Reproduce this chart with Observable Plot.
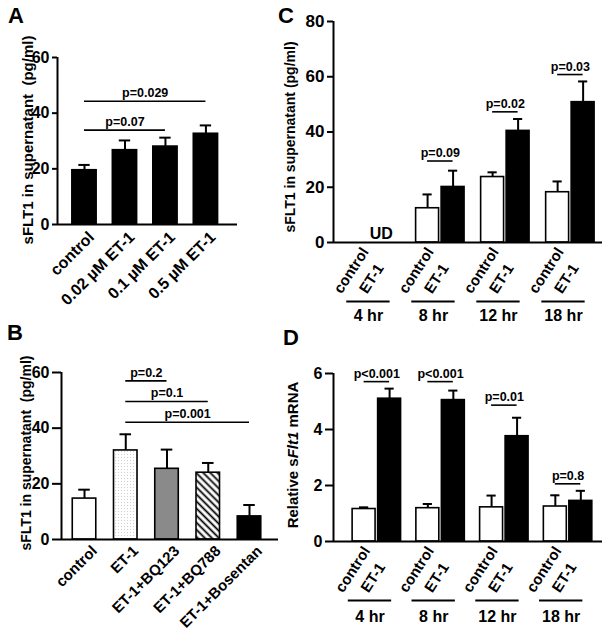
<!DOCTYPE html>
<html>
<head>
<meta charset="utf-8">
<script src="https://cdn.jsdelivr.net/npm/d3@7"></script>
<script src="https://cdn.jsdelivr.net/npm/@observablehq/plot@0.6"></script>
<style>
  body { margin: 0; background: #fff; }
  #fig { position: relative; width: 609px; height: 632px; overflow: hidden; background: #fff;
         font-family: "Liberation Sans", Arial, Helvetica, sans-serif; font-weight: bold; color: #000; }
  .panel { position: absolute; overflow: hidden; }
  .panel svg { display: block; overflow: hidden; }
  .letter { position: absolute; font-size: 22px; line-height: 1; }
  .ytitle { position: absolute; white-space: pre; line-height: 1; transform: translate(-50%, -50%) rotate(-90deg); }
</style>
</head>
<body>
<svg width="0" height="0" style="position:absolute">
  <defs>
    <pattern id="dots" width="3" height="3" patternUnits="userSpaceOnUse">
      <rect width="3" height="3" fill="#fff"></rect>
      <rect x="1" y="1" width="1" height="1" fill="#cfcfcf"></rect>
    </pattern>
    <pattern id="hatch" width="5" height="5" patternUnits="userSpaceOnUse" patternTransform="rotate(-45)">
      <rect width="5" height="5" fill="#fff"></rect>
      <line x1="1.5" y1="0" x2="1.5" y2="5" stroke="#000" stroke-width="1.8"></line>
    </pattern>
  </defs>
</svg>
<div id="fig"></div>
<script>
// ---------------- data ----------------
// Panel A
const catsA = ["control", "0.02 µM ET-1", "0.1 µM ET-1", "0.5 µM ET-1"];
const meanA = [19.5, 26.7, 28.0, 32.6];
const semA  = [1.9, 3.5, 3.2, 3.0];
const ticksA = [0, 20, 40, 60];
const sigA = [
  {from: "control", to: "0.1 µM ET-1", y: 33.9, label: "p=0.07"},
  {from: "control", to: "0.5 µM ET-1", y: 44.3, label: "p=0.029"}
];

// Panel B
const catsB = ["control", "ET-1", "ET-1+BQ123", "ET-1+BQ788", "ET-1+Bosentan"];
const meanB = [14.7, 32.0, 25.4, 24.0, 8.3];
const semB  = [3.2, 5.8, 6.9, 3.5, 4.1];
const ticksB = [0, 20, 40, 60];
const sigB = [
  {from: "ET-1", to: "ET-1+BQ123", y: 57.0, label: "p=0.2"},
  {from: "ET-1", to: "ET-1+BQ788", y: 49.6, label: "p=0.1"},
  {from: "ET-1", to: "ET-1+Bosentan", y: 42.1, label: "p=0.001"}
];

// Panels C & D (time course)
const times = ["4 hr", "8 hr", "12 hr", "18 hr"];
const treatments = ["control", "ET-1"];

const ctlMeanC = [null, 12.4, 23.7, 18.2];
const ctlSemC  = [null, 5.0, 1.7, 3.9];
const et1MeanC = [null, 20.1, 40.4, 50.8];
const et1SemC  = [null, 5.9, 4.3, 7.5];
const ticksC = [0, 20, 40, 60, 80];
const sigC = [
  {time: "8 hr", y: 29.5, label: "p=0.09"},
  {time: "12 hr", y: 47.3, label: "p=0.02"},
  {time: "18 hr", y: 60.8, label: "p=0.03"}
];
const undetected = [{time: "4 hr", label: "UD"}];

const ctlMeanD = [1.16, 1.19, 1.22, 1.25];
const ctlSemD  = [0.06, 0.15, 0.42, 0.40];
const et1MeanD = [5.10, 5.05, 3.76, 1.45];
const et1SemD  = [0.36, 0.34, 0.66, 0.36];
const ticksD = [0, 2, 4, 6];
const sigD = [
  {time: "4 hr", y: 5.71, label: "p<0.001"},
  {time: "8 hr", y: 5.71, label: "p<0.001"},
  {time: "12 hr", y: 4.87, label: "p=0.01"},
  {time: "18 hr", y: 2.06, label: "p=0.8"}
];

// ---------------- styles ----------------
const FONT = '"Liberation Sans", Arial, Helvetica, sans-serif';
const fillB = {"control": "white", "ET-1": "url(#dots)", "ET-1+BQ123": "#8a8a8a", "ET-1+BQ788": "url(#hatch)", "ET-1+Bosentan": "black"};
const fillT = {"control": "white", "ET-1": "black"};

const fig = document.getElementById("fig");
function place(node, left, top, w, h) {
  const d = document.createElement("div");
  d.className = "panel";
  d.style.left = left + "px"; d.style.top = top + "px";
  d.style.width = w + "px"; d.style.height = h + "px";
  d.appendChild(node);
  fig.appendChild(d);
}
function letter(t, left, top) {
  const d = document.createElement("div");
  d.className = "letter"; d.textContent = t;
  d.style.left = left + "px"; d.style.top = top + "px";
  fig.appendChild(d);
}
function ytitle(html, cx, cy, size) {
  const d = document.createElement("div");
  d.className = "ytitle"; d.innerHTML = html;
  d.style.left = cx + "px"; d.style.top = cy + "px"; d.style.fontSize = size + "px";
  fig.appendChild(d);
}
function fixTickFont(svg, size) {
  svg.querySelectorAll('[aria-label="y-axis tick label"]').forEach(g => {
    g.setAttribute("font-size", size);
    g.querySelectorAll("text").forEach(t => t.setAttribute("font-size", size));
  });
  return svg;
}

function frameMarks(xDomain, ticks, tickSize, tickFont) {
  return [
    Plot.ruleY([0], {strokeWidth: 2}),
    Plot.ruleX([xDomain[0]], {strokeWidth: 2}),
    Plot.axisY(ticks, {tickSize, tickPadding: 3, fontSize: tickFont, strokeWidth: 2, label: null})
  ];
}

// ---------- simple categorical bar panel (A, B) ----------
function catPanel(cfg) {
  const idx = new Map(cfg.cats.map((c, i) => [c, i]));
  const rows = cfg.cats.map((c, i) => ({cat: c, pos: i, mean: cfg.means[i], top: cfg.means[i] + cfg.sems[i], fill: cfg.fill(c)}));
  const sig = cfg.sig.map(s => ({...s, a: idx.get(s.from), b: idx.get(s.to)}));
  const svg = Plot.plot({
    width: cfg.width, height: cfg.height,
    marginTop: cfg.m[0], marginRight: cfg.m[1], marginBottom: cfg.m[2], marginLeft: cfg.m[3],
    x: {domain: cfg.xDomain, axis: null},
    y: {domain: [0, cfg.ymax], axis: null},
    color: {type: "identity"},
    style: {fontFamily: FONT, fontWeight: "bold", fontSize: "14px", color: "black", background: "transparent"},
    marks: [
      Plot.ruleX(rows, {x: "pos", y1: "mean", y2: "top", strokeWidth: 2}),
      Plot.ruleY(rows, {y: "top", x1: d => d.pos - cfg.cap, x2: d => d.pos + cfg.cap, strokeWidth: 2}),
      Plot.rect(rows, {x1: d => d.pos - cfg.half, x2: d => d.pos + cfg.half, y1: d => 0, y2: "mean", fill: "fill", stroke: "black", strokeWidth: 1.6}),
      Plot.ruleY(sig, {y: "y", x1: "a", x2: "b", strokeWidth: 1.6}),
      Plot.text(sig, {x: d => (d.a + d.b) / 2, y: "y", text: "label", dy: -4, lineAnchor: "bottom", fontSize: 12.5}),
      Plot.text(rows, {x: "pos", y: d => 0, text: "cat", rotate: -45, textAnchor: "end", dx: cfg.ldx, dy: cfg.ldy, fontSize: cfg.lfont}),
      ...frameMarks(cfg.xDomain, cfg.ticks, cfg.tickSize, cfg.tickFont)
    ]
  });
  return fixTickFont(svg, cfg.tickFont);
}

// ---------- grouped time-course panel (C, D) ----------
function timePanel(cfg) {
  const gpos = new Map(times.map((t, g) => [t, g * cfg.gstep]));
  const bars = [];
  const labels = [];
  times.forEach((t, g) => {
    treatments.forEach((tr, w) => {
      const mean = (w === 0 ? cfg.ctlMean : cfg.etMean)[g];
      const sem = (w === 0 ? cfg.ctlSem : cfg.etSem)[g];
      const pos = gpos.get(t) + w;
      labels.push({time: t, treatment: tr, pos});
      if (mean != null) bars.push({time: t, treatment: tr, pos, mean, top: mean + sem, fill: fillT[tr]});
    });
  });
  const groups = times.map(t => ({time: t, a: gpos.get(t), b: gpos.get(t) + 1}));
  const sig = cfg.sig.map(s => ({...s, a: gpos.get(s.time), b: gpos.get(s.time) + 1}));
  const ud = (cfg.ud || []).map(u => ({...u, pos: gpos.get(u.time) + 0.5}));
  const svg = Plot.plot({
    width: cfg.width, height: cfg.height,
    marginTop: cfg.m[0], marginRight: cfg.m[1], marginBottom: cfg.m[2], marginLeft: cfg.m[3],
    x: {domain: cfg.xDomain, axis: null},
    y: {domain: [0, cfg.ymax], axis: null},
    color: {type: "identity"},
    style: {fontFamily: FONT, fontWeight: "bold", fontSize: "14px", color: "black", background: "transparent"},
    marks: [
      Plot.ruleX(bars, {x: "pos", y1: "mean", y2: "top", strokeWidth: 2}),
      Plot.ruleY(bars, {y: "top", x1: d => d.pos - cfg.cap, x2: d => d.pos + cfg.cap, strokeWidth: 2}),
      Plot.rect(bars, {x1: d => d.pos - cfg.half, x2: d => d.pos + cfg.half, y1: d => 0, y2: "mean", fill: "fill", stroke: "black", strokeWidth: 1.6}),
      Plot.ruleY(sig, {y: "y", x1: "a", x2: "b", strokeWidth: 1.6}),
      Plot.text(sig, {x: d => (d.a + d.b) / 2, y: "y", text: "label", dy: -4, lineAnchor: "bottom", fontSize: 12.5}),
      Plot.text(ud, {x: "pos", y: d => 0, text: "label", dx: 6, dy: -4, lineAnchor: "bottom", fontSize: 16}),
      Plot.text(labels, {x: "pos", y: d => 0, text: "treatment", rotate: -57, textAnchor: "start", lineAnchor: "bottom", dx: -21, dy: 52, fontSize: 15}),
      Plot.ruleY(groups, {y: d => 0, x1: d => d.a - 0.62, x2: d => d.b + 0.08, dy: 59, strokeWidth: 2}),
      Plot.text(groups, {x: d => (d.a + d.b) / 2 - 0.27, y: d => 0, text: "time", dy: cfg.gdy, fontSize: 16}),
      ...frameMarks(cfg.xDomain, cfg.ticks, cfg.tickSize, cfg.tickFont)
    ]
  });
  return fixTickFont(svg, cfg.tickFont);
}

// ---------------- build ----------------
place(catPanel({
  cats: catsA, means: meanA, sems: semA, sig: sigA, fill: () => "black",
  width: 300, height: 312, m: [57, 63, 88, 57], xDomain: [-0.667, 3.78], ymax: 60,
  ticks: ticksA, tickSize: 5, tickFont: 16, half: 0.3, cap: 0.14, ldx: 7, ldy: 10, lfont: 16
}), 0, 0, 300, 312);

place(catPanel({
  cats: catsB, means: meanB, sems: semB, sig: sigB, fill: c => fillB[c],
  width: 300, height: 332, m: [72, 22, 93, 61], xDomain: [-0.558, 4.703], ymax: 60,
  ticks: ticksB, tickSize: 9, tickFont: 16, half: 0.285, cap: 0.14, ldx: 10, ldy: 9, lfont: 15
}), 0, 300, 300, 332);

place(timePanel({
  ctlMean: ctlMeanC, ctlSem: ctlSemC, etMean: et1MeanC, etSem: et1SemC, sig: sigC, ud: undetected,
  width: 309, height: 328, m: [21, 7, 86, 33], xDomain: [-1.14, 9.41], gstep: 2.55, ymax: 80,
  ticks: ticksC, tickSize: 6, tickFont: 17, half: 0.45, cap: 0.18, gdy: 73
}), 300, 0, 309, 328);

place(timePanel({
  ctlMean: ctlMeanD, ctlSem: ctlSemD, etMean: et1MeanD, etSem: et1SemD, sig: sigD,
  width: 309, height: 312, m: [53, 7, 91, 33], xDomain: [-1.2, 9.35], gstep: 2.5, ymax: 6,
  ticks: ticksD, tickSize: 8, tickFont: 16, half: 0.45, cap: 0.18, gdy: 75
}), 300, 320, 309, 312);

letter("A", 8, 5);
letter("B", 7, 322);
letter("C", 278, 5);
letter("D", 283, 327);

ytitle("sFLT1 in supernatant  (pg/ml)", 27, 140, 15);
ytitle("sFLT1 in supernatant  (pg/ml)", 26, 453, 14);
ytitle("sFLT1 in supernatant (pg/ml)", 290, 137, 14);
ytitle("Relative s<i>Flt1</i> mRNA", 292, 455, 15);
</script>
</body>
</html>
